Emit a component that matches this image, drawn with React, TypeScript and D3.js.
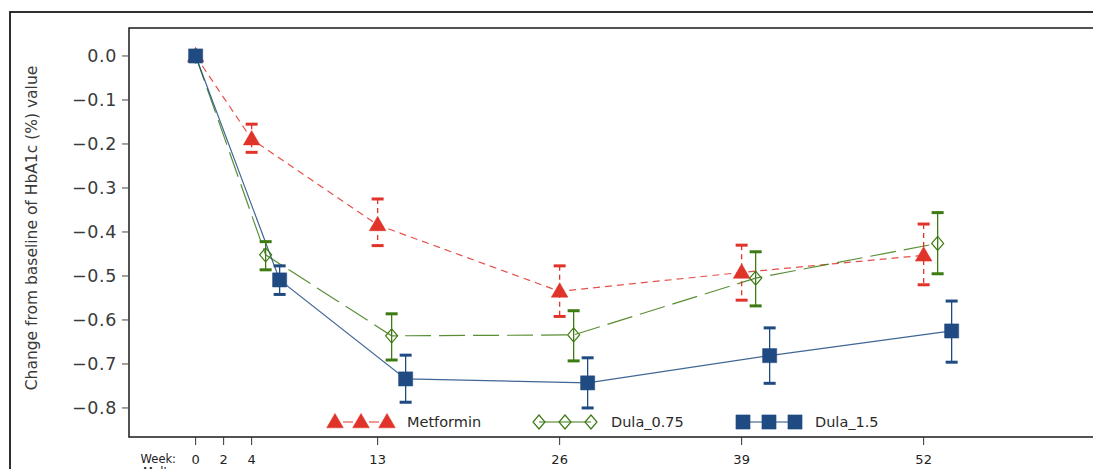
import React from "react";
import * as d3 from "d3";

// Study weeks at which HbA1c was measured (axis ticks)
const weekTicks = [0, 2, 4, 13, 26, 39, 52];
const yTicks = [0, -0.1, -0.2, -0.3, -0.4, -0.5, -0.6, -0.7, -0.8];

const seriesNames = ["Metformin", "Dula_0.75", "Dula_1.5"];

// Plotted week positions (small horizontal offsets keep the groups apart)
const metforminWeeks = [0, 4, 13, 26, 39, 52];
const dula075Weeks = [0, 5, 14, 27, 40, 53];
const dula15Weeks = [0, 6, 15, 28, 41, 54];

// Mean change from baseline with lower / upper error limits
const metforminMean = [0, -0.189, -0.384, -0.535, -0.492, -0.453];
const metforminLow = [0, -0.219, -0.431, -0.592, -0.555, -0.52];
const metforminHigh = [0, -0.155, -0.325, -0.477, -0.43, -0.382];

const dula075Mean = [0, -0.452, -0.636, -0.634, -0.505, -0.426];
const dula075Low = [0, -0.486, -0.691, -0.693, -0.568, -0.495];
const dula075High = [0, -0.422, -0.586, -0.579, -0.445, -0.356];

const dula15Mean = [0, -0.509, -0.734, -0.743, -0.681, -0.625];
const dula15Low = [0, -0.542, -0.787, -0.8, -0.744, -0.696];
const dula15High = [0, -0.477, -0.68, -0.686, -0.618, -0.557];

const RED = "#e0332a";
const GREEN = "#3d7a12";
const BLUE = "#1f4b82";
const FONT = "'DejaVu Sans', sans-serif";

type Pt = { w: number; m: number; lo: number; hi: number };
const zip = (w: number[], m: number[], lo: number[], hi: number[]): Pt[] =>
  w.map((wk, i) => ({ w: wk, m: m[i], lo: lo[i], hi: hi[i] }));

const series = [
  { name: seriesNames[0], color: RED, dash: "7,5", barDash: "5,4", marker: "triangle", pts: zip(metforminWeeks, metforminMean, metforminLow, metforminHigh) },
  { name: seriesNames[1], color: GREEN, dash: "26,8", barDash: null, marker: "diamond", pts: zip(dula075Weeks, dula075Mean, dula075Low, dula075High) },
  { name: seriesNames[2], color: BLUE, dash: null, barDash: null, marker: "square", pts: zip(dula15Weeks, dula15Mean, dula15Low, dula15High) },
];

const W = 1093;
const H = 469;
const plotLeft = 129;
const plotTop = 28;
const plotBottom = 437;

const x = d3.scaleLinear().domain([-4.76, 65]).range([plotLeft, plotLeft + 69.76 * 14]);
const y = d3.scaleLinear().domain([-0.866, 0.0636]).range([plotBottom, plotTop]);
const fmt = d3.format(".1f");

const triPath = d3.symbol(d3.symbolTriangle, 120)()!;
const sqPath = d3.symbol(d3.symbolSquare, 200)()!;
const diaPath = "M0,-7L6,0L0,7L-6,0Z";

function Marker({ kind, color, cx, cy }: { kind: string; color: string; cx: number; cy: number }) {
  if (kind === "triangle") return <path d={triPath} transform={`translate(${cx},${cy + 1})`} fill={RED} stroke={color} strokeWidth={0.5} />;
  if (kind === "square") return <path d={sqPath} transform={`translate(${cx},${cy})`} fill={BLUE} stroke={color} strokeWidth={0.5} />;
  return <path d={diaPath} transform={`translate(${cx},${cy})`} fill="none" stroke={color} strokeWidth={1.2} />;
}

export default function App() {
  const line = d3
    .line<Pt>()
    .x((d) => x(d.w))
    .y((d) => y(d.m));

  const legendX = [335, 539, 743];

  return (
    <svg width={W} height={H} style={{ position: "absolute", left: 0, top: 0, background: "#fff" }} fontFamily={FONT}>
      {/* outer frame */}
      <rect x={10} y={12} width={1200} height={600} fill="none" stroke="#1a1a1a" strokeWidth={1.8} />
      {/* plot frame */}
      <rect x={plotLeft} y={plotTop} width={1100} height={plotBottom - plotTop} fill="none" stroke="#1a1a1a" strokeWidth={1.5} />

      {/* y axis */}
      {yTicks.map((t) => (
        <g key={t}>
          <line x1={plotLeft - 7} x2={plotLeft} y1={y(t)} y2={y(t)} stroke="#444" strokeWidth={1} />
          <text x={117} y={y(t)} dy="0.36em" textAnchor="end" fontSize={17.5} letterSpacing={0.6} fill="#3a3a3a">
            {fmt(t)}
          </text>
        </g>
      ))}
      <text transform={`translate(37,${228}) rotate(-90)`} textAnchor="middle" fontSize={15.5} fill="#3a3a3a">
        Change from baseline of HbA1c (%) value
      </text>

      {/* x axis */}
      {weekTicks.map((t) => (
        <g key={t}>
          <line x1={x(t)} x2={x(t)} y1={plotBottom} y2={plotBottom + 8} stroke="#333" strokeWidth={1} />
          <text x={x(t)} y={464} textAnchor="middle" fontSize={13} fill="#222">
            {t}
          </text>
        </g>
      ))}
      <text x={176} y={463} textAnchor="end" fontSize={11.5} fill="#222">
        Week:
      </text>
      <text x={143} y={476} fontSize={11.5} fill="#222">
        Mult
      </text>

      {/* series lines */}
      {series.map((s) => (
        <path key={s.name} d={line(s.pts)!} fill="none" stroke={s.color} strokeOpacity={0.85} strokeWidth={1.2} strokeDasharray={s.dash ?? undefined} />
      ))}

      {/* error bars */}
      {series.map((s) =>
        s.pts
          .filter((p) => p.hi !== p.lo)
          .map((p, i) => (
            <g key={s.name + i}>
              <line x1={x(p.w)} x2={x(p.w)} y1={y(p.hi)} y2={y(p.lo)} stroke={s.color} strokeWidth={1.3} strokeDasharray={s.barDash ?? undefined} />
              <line x1={x(p.w) - 6} x2={x(p.w) + 6} y1={y(p.hi)} y2={y(p.hi)} stroke={s.color} strokeWidth={3} />
              <line x1={x(p.w) - 6} x2={x(p.w) + 6} y1={y(p.lo)} y2={y(p.lo)} stroke={s.color} strokeWidth={3} />
            </g>
          ))
      )}

      {/* markers */}
      {series.map((s) =>
        s.pts.map((p, i) => <Marker key={s.name + "m" + i} kind={s.marker} color={s.color} cx={x(p.w)} cy={y(p.m)} />)
      )}

      {/* legend */}
      {series.map((s, k) => {
        const lx = legendX[k];
        const ly = 422;
        const xs = [lx, lx + 26, lx + 52];
        return (
          <g key={"lg" + s.name}>
            <line x1={xs[0]} x2={xs[2]} y1={ly} y2={ly} stroke={s.color} strokeWidth={1.2} strokeDasharray={s.marker === "triangle" ? "10,16" : undefined} strokeDashoffset={-8} />
            {xs.map((mx, j) => (
              <Marker key={j} kind={s.marker} color={s.color} cx={mx} cy={ly} />
            ))}
            <text x={lx + 72} y={ly} dy="0.36em" fontSize={14.5} fill="#2a2a2a">
              {s.name}
            </text>
          </g>
        );
      })}
    </svg>
  );
}
